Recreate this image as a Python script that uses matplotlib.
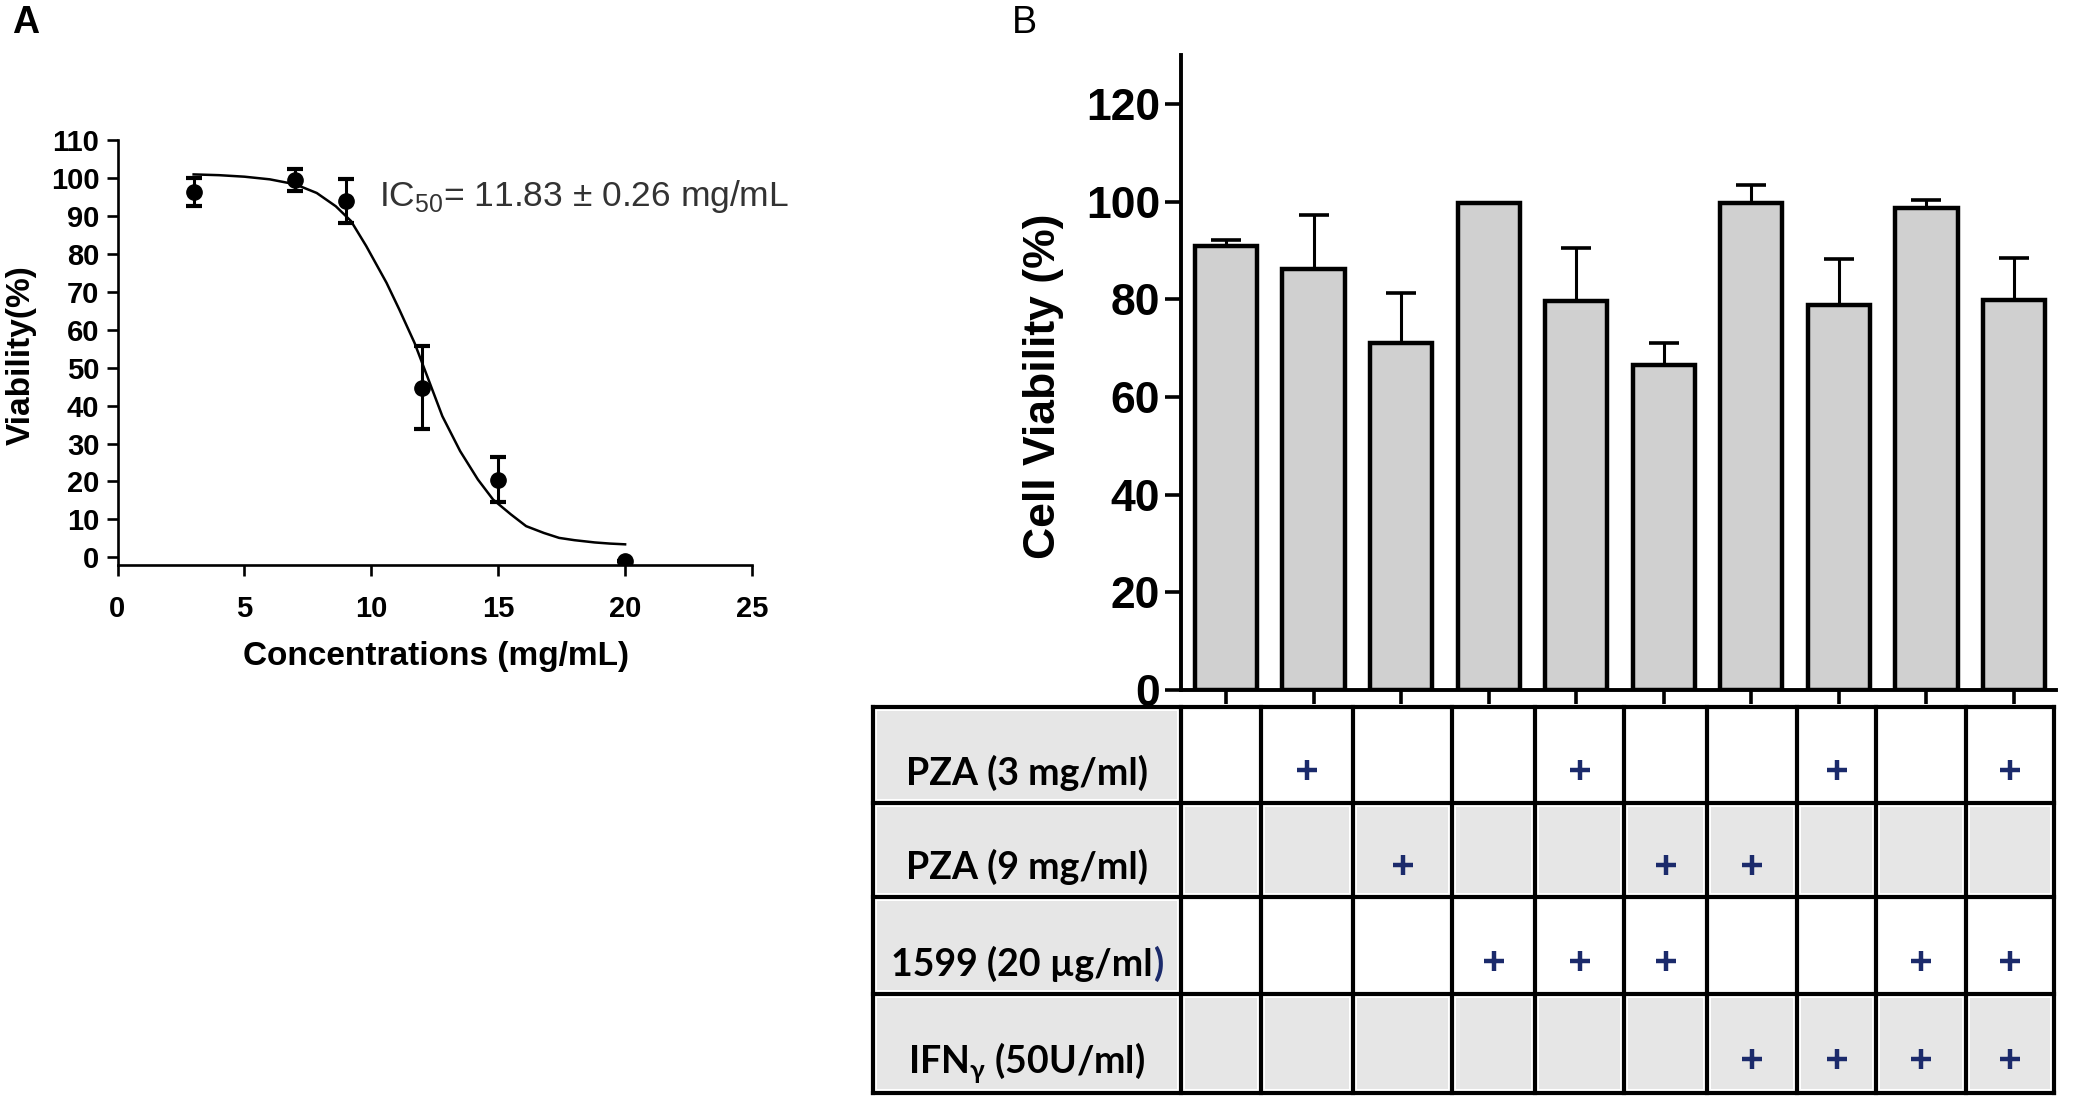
import matplotlib
matplotlib.use("Agg")
import matplotlib.pyplot as plt
from matplotlib.patches import Rectangle

plt.rcParams["font.family"] = ["Liberation Sans", "DejaVu Sans"]

W, H = 2074, 1098  # output size in pixels (dpi 100)

# ---- panel A: dose response ----
conc = [3, 7, 9, 12, 15, 20]
viab = [96.3, 99.5, 93.9, 44.7, 20.5, -0.9]
viab_sd = [3.7, 3.0, 5.8, 11.0, 5.9, 0.0]

# fitted curve
fit_x = [3.0, 4.0, 5.0, 6.0, 7.0, 7.85, 8.6, 9.2, 9.8, 10.6, 11.1, 11.7,
         12.2, 12.8, 13.5, 14.2, 14.8, 15.5, 16.1, 16.8, 17.4, 18.0, 18.8,
         19.4, 20.0]
fit_y = [101.0, 100.8, 100.4, 99.7, 98.4, 96.1, 92.6, 88.7, 82.1, 72.4, 65.4,
         56.6, 47.8, 37.2, 28.0, 20.5, 15.2, 11.3, 8.2, 6.4, 5.1, 4.5, 3.9,
         3.6, 3.4]
ic50_text = r"IC$_\mathregular{50}$= 11.83 $\mathregular{\pm}$ 0.26 mg/mL"

# ---- panel B: cell viability per treatment ----
groups = list(range(10))
cell_viab = [90.8, 86.2, 71.0, 99.8, 79.7, 66.6, 99.8, 78.9, 98.7, 79.9]
cell_sem = [1.3, 11.0, 10.2, 0.0, 10.7, 4.4, 3.6, 9.4, 1.6, 8.6]

treat_labels = ["PZA (3 mg/ml)", "PZA (9 mg/ml)", "1599 (20 µg/ml",
                r"IFN$_\mathregular{γ}$ (50U/ml)"]
treat_matrix = [
    [0, 1, 0, 0, 1, 0, 0, 1, 0, 1],
    [0, 0, 1, 0, 0, 1, 1, 0, 0, 0],
    [0, 0, 0, 1, 1, 1, 0, 0, 1, 1],
    [0, 0, 0, 0, 0, 0, 1, 1, 1, 1],
]

# table grid (pixels)
col_edges = [873, 1181, 1261, 1353, 1452, 1535, 1624, 1707, 1797, 1876, 1966, 2054]
row_edges = [707, 803, 897, 994, 1093]

NAVY = "#1B2A6B"


def px_rect(l, t, r, b):
    return [l / W, 1 - b / H, (r - l) / W, (b - t) / H]


def ftext(x, y, s, **kw):
    return fig.text(x / W, 1 - y / H, s, **kw)


fig = plt.figure(figsize=(W / 100, H / 100), dpi=100)

# ================= A =================
axA = fig.add_axes(px_rect(117.5, 140.3, 752, 564.8))
axA.plot(fit_x, fit_y, color="black", lw=1.8, zorder=2)
axA.errorbar(conc, viab, yerr=viab_sd, fmt="o", ms=11, color="black",
             ecolor="black", elinewidth=2.2, capsize=6, capthick=3, zorder=3)
axA.set_xlim(0, 25)
axA.set_ylim(-2, 110)
axA.set_xticks(range(0, 26, 5))
axA.set_yticks(range(0, 111, 10))
for s in ("top", "right"):
    axA.spines[s].set_visible(False)
for s in ("left", "bottom"):
    axA.spines[s].set_linewidth(1.9)
axA.tick_params(direction="out", length=8, width=1.9, labelsize=21)
axA.tick_params(axis="x", pad=14)
axA.tick_params(axis="y", pad=5)
plt.setp(axA.get_xticklabels() + axA.get_yticklabels(), fontweight="bold")
axA.text(10.3, 92.6, ic50_text, fontsize=25.5, color="#333333", va="baseline")

ftext(21, 355, "Viability(%)", rotation=90, ha="center", va="center",
      fontsize=24, fontweight="bold")
ftext(436, 656, "Concentrations (mg/mL)", ha="center", va="center",
      fontsize=24, fontweight="bold")
ftext(26, 23, "A", ha="center", va="center", fontsize=27, fontweight="bold")

# ================= B =================
axB = fig.add_axes(px_rect(1181, 55, 2056, 690))
axB.bar(groups, cell_viab, width=0.71, color="#D0D0D0", edgecolor="black",
        linewidth=3.2, yerr=[[0] * len(cell_sem), cell_sem],
        error_kw=dict(elinewidth=2.2, capsize=11, capthick=2.6, ecolor="black"),
        zorder=2)
axB.set_xlim(-0.514, 9.48)
axB.set_ylim(0, 130)
axB.set_yticks(range(0, 121, 20))
axB.set_xticks(groups)
axB.set_xticklabels([])
for s in ("top", "right"):
    axB.spines[s].set_visible(False)
for s in ("left", "bottom"):
    axB.spines[s].set_linewidth(2.8)
axB.tick_params(axis="y", direction="out", length=11.5, width=2.6,
                labelsize=32, pad=3.5)
axB.tick_params(axis="x", direction="out", length=10, width=2.6)
plt.setp(axB.get_yticklabels(), fontweight="bold")

ftext(1044, 386, "Cell Viability (%)", rotation=90, ha="center", va="center",
      fontsize=32, fontweight="bold")
ftext(1024, 23, "B", ha="center", va="center", fontsize=27)

# ================= treatment table =================
tab = fig.add_axes([0, 0, 1, 1], zorder=-1)
tab.set_xlim(0, W)
tab.set_ylim(H, 0)
tab.axis("off")

n_rows = len(treat_labels)
for r in range(n_rows):
    y0, y1 = row_edges[r], row_edges[r + 1]
    for c in range(len(col_edges) - 1):
        x0, x1 = col_edges[c], col_edges[c + 1]
        if c == 0 or r % 2 == 1:
            tab.add_patch(Rectangle((x0 + 4, y0 + 4), x1 - x0 - 8, y1 - y0 - 8,
                                    facecolor="#E6E6E6", edgecolor="none"))

hl = tab.hlines(row_edges, col_edges[0], col_edges[-1], color="black", lw=3)
vl = tab.vlines(col_edges, row_edges[0], row_edges[-1], color="black", lw=3)
hl.set_capstyle("projecting")
vl.set_capstyle("projecting")

plus_x, plus_y = [], []
for r, row in enumerate(treat_matrix):
    for c, on in enumerate(row):
        if on:
            plus_x.append((col_edges[c + 1] + col_edges[c + 2]) / 2)
            plus_y.append(row_edges[r] + 0.66 * (row_edges[r + 1] - row_edges[r]))
tab.plot(plus_x, plus_y, "+", ms=14, mew=3.2, color=NAVY)

lab_font = dict(family=["Lato", "DejaVu Sans"], fontsize=27, fontweight="bold")
cx = (col_edges[0] + col_edges[1]) / 2
label_texts = []
for r, lab in enumerate(treat_labels):
    yb = row_edges[r] + 0.81 * (row_edges[r + 1] - row_edges[r])
    t = tab.text(cx, yb, lab, ha="center", va="baseline", **lab_font)
    label_texts.append(t)

# the 1599 label ends with a blue parenthesis
t3 = label_texts[2]
paren = tab.text(0, t3.get_position()[1], ")", ha="left", va="baseline",
                 color=NAVY, **lab_font)
fig.canvas.draw()
rend = fig.canvas.get_renderer()
w1 = t3.get_window_extent(rend).width
w2 = paren.get_window_extent(rend).width
x_start = cx - (w1 + w2) / 2
t3.set_ha("left")
t3.set_x(x_start)
paren.set_x(x_start + w1 + 1)

fig.savefig("out.png", dpi=100)
